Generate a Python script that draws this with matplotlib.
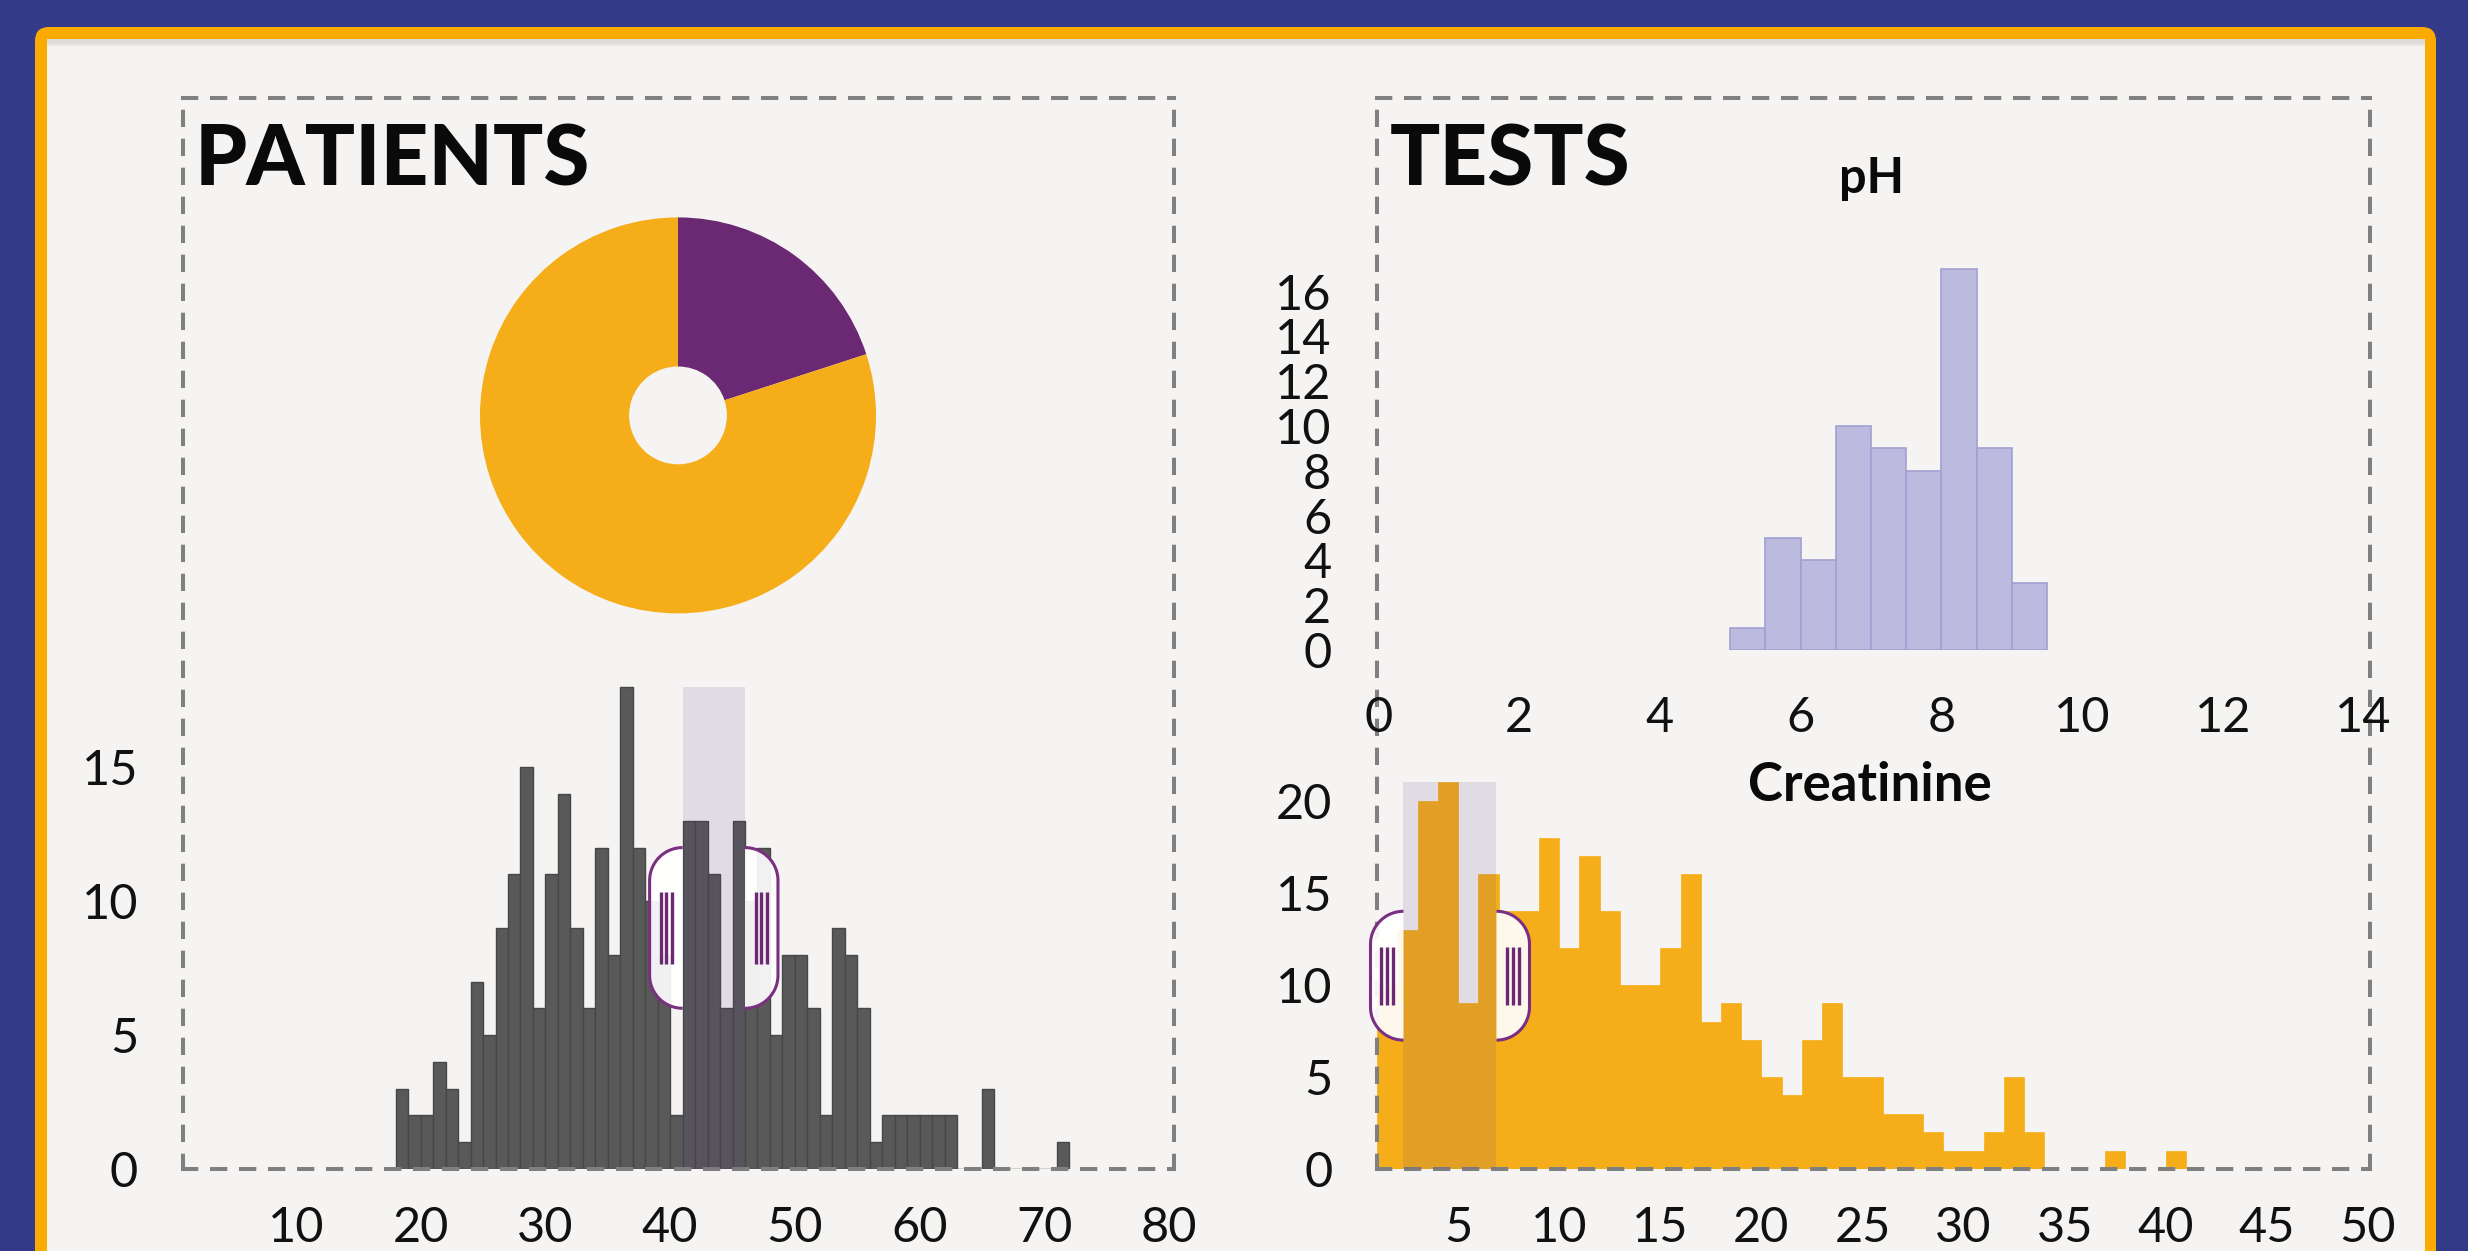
import numpy as np
import matplotlib
matplotlib.use("Agg")
import matplotlib.pyplot as plt
from matplotlib.patches import FancyBboxPatch, Rectangle, PathPatch
from matplotlib.path import Path
from matplotlib.transforms import ScaledTranslation

plt.rcParams['font.family'] = ['Lato', 'DejaVu Sans']

# ---- data ----
sex_labels = ["female", "male"]
sex_counts = [20, 80]

age_start = list(range(18, 72))
age_counts = [3, 2, 2, 4, 3, 1, 7, 5, 9, 11,
              15, 6, 11, 14, 9, 6, 12, 8, 18, 12,
              10, 8, 2, 13, 13, 11, 6, 13, 10, 12,
              5, 8, 8, 6, 2, 9, 8, 6, 1, 2,
              2, 2, 2, 2, 2, 0, 0, 3, 0, 0,
              0, 0, 0, 1]
age_brush = (41, 46)
age_xticks = [10, 20, 30, 40, 50, 60, 70, 80]
age_yticks = [0, 5, 10, 15]

ph_start = [5.0, 5.5, 6.0, 6.5, 7.0, 7.5, 8.0, 8.5, 9.0]
ph_counts = [1, 5, 4, 10, 9, 8, 17, 9, 3]
ph_xticks = [0, 2, 4, 6, 8, 10, 12, 14]
ph_yticks = [0, 2, 4, 6, 8, 10, 12, 14, 16]

creat_start = list(range(1, 41))
creat_counts = [10, 13, 20, 21, 9, 16, 14, 14, 18, 12,
                17, 14, 10, 10, 12, 16, 8, 9, 7, 5,
                4, 7, 9, 5, 5, 3, 3, 2, 1, 1,
                2, 5, 2, 0, 0, 0, 1, 0, 0, 1]
creat_brush = (2.3, 6.9)
creat_xticks = [5, 10, 15, 20, 25, 30, 35, 40, 45, 50]
creat_yticks = [0, 5, 10, 15, 20]

# ---- colours ----
navy = "#333a88"
frame_orange = "#fbab00"
panel = "#f5f4f2"
orange = "#f5ae19"
purple = "#6b2873"
handle_purple = "#7b2f83"
bar_grey = "#595959"
lavender = "#bcbadf"
brush_col = "#573486"

W, H = 2468, 1251
fig = plt.figure(figsize=(W / 100, H / 100), dpi=100, facecolor=navy)


def axes_px(l, t, r, b, **kw):
    return fig.add_axes([l / W, 1 - b / H, (r - l) / W, (b - t) / H], **kw)


# background frame
bg = axes_px(0, 0, W, H, zorder=-10)
bg.set_xlim(0, W)
bg.set_ylim(H, 0)
bg.axis("off")
bg.add_patch(FancyBboxPatch((35, 27), 2401, 1400, boxstyle="round,pad=0,rounding_size=14",
                            fc=frame_orange, ec="none"))
bg.add_patch(Rectangle((47, 39), 2378, 1400, fc=panel, ec="none"))
bg.add_patch(Rectangle((47, 39), 2378, 5, fc="#dedddb", ec="none"))
bg.add_patch(Rectangle((47, 44), 2378, 2, fc="#e9e8e6", ec="none"))

tick_kw = dict(length=0, labelsize=35, colors="#111111")


def dashed_frame(ax):
    for sp in ax.spines.values():
        sp.set_visible(True)
        sp.set_color("#808080")
        sp.set_linewidth(2.9)
        sp.set_linestyle((0, (3.3, 3.9)))
    ax.set_facecolor("none")


def draw_handle(ax, x, lo, hi, side):
    mid = (lo + hi) / 2
    p0 = ax.transData.transform((x, mid))
    p1 = ax.transData.transform((x, hi))
    hh = (p1[1] - p0[1]) / fig.dpi
    w = 0.33
    r = w
    t1 = np.linspace(np.pi / 2, np.pi, 20)
    t2 = np.linspace(np.pi, 1.5 * np.pi, 20)
    xs = np.concatenate([[0], r * np.cos(t1), r * np.cos(t2), [0]]) * side * -1
    ys = np.concatenate([[hh], hh - r + r * np.sin(t1), -hh + r + r * np.sin(t2), [-hh]])
    verts = np.column_stack([xs, ys])
    tr = fig.dpi_scale_trans + ScaledTranslation(x, mid, ax.transData)
    ax.add_patch(PathPatch(Path(verts, closed=False), transform=tr, fc="white", alpha=0.92,
                           ec="none", zorder=5, clip_on=False))
    ax.add_patch(PathPatch(Path(verts), transform=tr, fc="none", ec=handle_purple, lw=2.2,
                           zorder=6, clip_on=False))
    for f in (0.33, 0.5, 0.67):
        xx = side * f * w
        ax.plot([xx, xx], [-0.45 * hh, 0.45 * hh], transform=tr, color=purple, lw=2.4,
                solid_capstyle="butt", zorder=7, clip_on=False)


# ---------------- PATIENTS ----------------
ax_age = axes_px(182.5, 97.6, 1174, 1169)
dashed_frame(ax_age)
ax_age.bar(age_start, age_counts, width=1, align="edge", color=bar_grey,
           edgecolor="#474747", linewidth=1.0, zorder=2)
ax_age.fill_between(age_brush, 0, max(age_counts), color=brush_col, alpha=0.12, lw=0, zorder=3)
ax_age.set_xlim(0.9, 80.4)
ax_age.set_ylim(0, 40)
ax_age.set_xticks(age_xticks)
ax_age.set_yticks(age_yticks)
ax_age.tick_params(axis="x", pad=27, **tick_kw)
ax_age.tick_params(axis="y", pad=32, **tick_kw)
amax = max(age_counts)
draw_handle(ax_age, age_brush[0], amax / 3, 2 * amax / 3, -1)
draw_handle(ax_age, age_brush[1], amax / 3, 2 * amax / 3, 1)

fig.text(195 / W, 1 - 186 / H, "PATIENTS", fontsize=60, fontweight="black",
         va="baseline", ha="left", color="#0a0a0a")

ax_pie = axes_px(480, 217.4, 876, 613.4)
ax_pie.pie(sex_counts, colors=[purple, orange], startangle=90, counterclock=False,
           radius=1, wedgeprops=dict(width=0.753, linewidth=0))
ax_pie.set_xlim(-1, 1)
ax_pie.set_ylim(-1, 1)
ax_pie.set_aspect("equal")
ax_pie.axis("off")

# ---------------- TESTS ----------------
ax_cr = axes_px(1377, 97.6, 2370, 1169)
dashed_frame(ax_cr)
ax_cr.bar(creat_start, creat_counts, width=1, align="edge", color=orange,
          edgecolor=orange, linewidth=0.5, zorder=2)
ax_cr.fill_between(creat_brush, 0, max(creat_counts), color=brush_col, alpha=0.12, lw=0, zorder=3)
ax_cr.set_xlim(0.99, 50.1)
ax_cr.set_ylim(0, 58.2)
ax_cr.set_xticks(creat_xticks)
ax_cr.set_yticks(creat_yticks)
ax_cr.tick_params(axis="x", pad=27, **tick_kw)
ax_cr.tick_params(axis="y", pad=32, **tick_kw)
cmax = max(creat_counts)
draw_handle(ax_cr, creat_brush[0], cmax / 3, 2 * cmax / 3, -1)
draw_handle(ax_cr, creat_brush[1], cmax / 3, 2 * cmax / 3, 1)

fig.text(1390 / W, 1 - 186 / H, "TESTS", fontsize=60, fontweight="black",
         va="baseline", ha="left", color="#0a0a0a")
fig.text(1870 / W, 1 - 801 / H, "Creatinine", fontsize=38, fontweight="bold",
         va="baseline", ha="center", color="#0a0a0a")

ax_ph = axes_px(1378.5, 246.8, 2370.6, 650)
ax_ph.bar(ph_start, ph_counts, width=0.5, align="edge", color=lavender,
          edgecolor="#a3a0d2", linewidth=1.2)
ax_ph.set_xlim(0, 14.1)
ax_ph.set_ylim(0, 18)
ax_ph.set_xticks(ph_xticks)
ax_ph.set_yticks(ph_yticks)
ax_ph.tick_params(axis="x", pad=33, **tick_kw)
ax_ph.tick_params(axis="y", pad=34, **tick_kw)
for sp in ax_ph.spines.values():
    sp.set_visible(False)
ax_ph.set_facecolor("none")
fig.text(1871 / W, 1 - 193 / H, "pH", fontsize=35, fontweight="bold",
         va="baseline", ha="center", color="#0a0a0a")

fig.savefig("out.png", dpi=100, facecolor=navy)
